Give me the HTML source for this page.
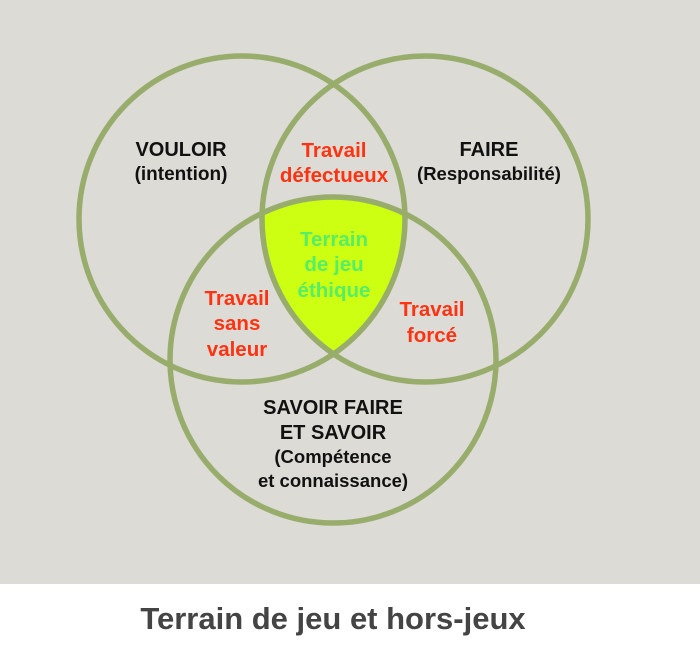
<!DOCTYPE html>
<html><head><meta charset="utf-8"><style>
body{margin:0;width:700px;height:644px;overflow:hidden;background:#fff;font-family:"Liberation Sans",Arial,sans-serif}
</style></head><body>
<svg width="700" height="644" viewBox="0 0 700 644" xmlns="http://www.w3.org/2000/svg" font-family="Liberation Sans, Arial, sans-serif" font-weight="bold" text-anchor="middle">
<defs>
<clipPath id="a"><circle cx="242" cy="219" r="163"/></clipPath>
<clipPath id="b"><circle cx="425" cy="219" r="163"/></clipPath>
</defs>
<rect x="0" y="0" width="700" height="584" fill="#dcdbd6"/>
<g clip-path="url(#a)"><g clip-path="url(#b)"><circle cx="333" cy="360" r="163" fill="#ccff12"/></g></g>
<g fill="none" stroke="#98ad6c" stroke-width="5.5">
<circle cx="242" cy="219" r="163"/>
<circle cx="425" cy="219" r="163"/>
<circle cx="333" cy="360" r="163"/>
</g>
<g font-size="20" fill="#111">
<text x="181" y="156">VOULOIR</text>
<text x="181" y="180" font-size="19">(intention)</text>
<text x="489" y="156">FAIRE</text>
<text x="489" y="180" font-size="18.5">(Responsabilité)</text>
<text x="333" y="414">SAVOIR FAIRE</text>
<text x="333" y="439">ET SAVOIR</text>
<text x="333" y="463" font-size="18.5">(Compétence</text>
<text x="333" y="487" font-size="18.5">et connaissance)</text>
</g>
<g font-size="20.5" fill="#ff3311">
<text x="334" y="157">Travail</text>
<text x="334" y="182">défectueux</text>
<text x="237" y="305">Travail</text>
<text x="237" y="330">sans</text>
<text x="237" y="356">valeur</text>
<text x="432" y="316">Travail</text>
<text x="432" y="342">forcé</text>
</g>
<g font-size="20.5" fill="#55ee66">
<text x="334" y="246">Terrain</text>
<text x="334" y="271">de jeu</text>
<text x="334" y="297">éthique</text>
</g>
<text x="333" y="629" font-size="31" fill="#444">Terrain de jeu et hors-jeux</text>
</svg>
</body></html>
